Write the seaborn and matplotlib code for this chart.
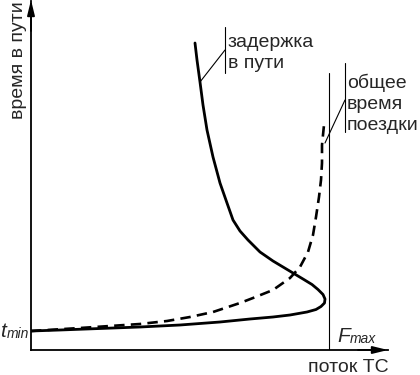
import matplotlib
matplotlib.use("Agg")
import matplotlib.pyplot as plt
import seaborn as sns
import pandas as pd

# ---- data (schematic units: flow axis / time axis) ----
flow_delay = [0, 29, 69, 109, 149, 189, 219, 242, 259, 276, 285, 290, 293.5, 294, 292,
              287, 281, 272, 262, 252, 242, 229, 217, 209, 202, 196, 189, 182, 176, 172,
              169, 166, 164]
time_delay = [19, 20, 21.5, 23, 25, 28, 31, 33, 35, 38, 40.5, 43.5, 47, 51, 55.5,
              60.5, 65.5, 71, 77, 83, 89, 98, 110, 119, 130, 147, 167, 193, 220, 245,
              268, 290, 307]

flow_total = [0, 49, 109, 136, 159, 182, 209, 222, 242, 259, 269, 277, 282, 285,
              288, 290, 291, 291, 293]
time_total = [19, 22, 26, 29, 33, 38, 47, 52, 60, 72, 83, 98, 115, 133,
              153, 170, 187, 205, 225]

F_MAX = 298
F_MAX_TOP = 277
X_END = 357
Y_END = 349

x_label = "поток ТС"
y_label = "время в пути"
delay_label = ["задержка", "в пути"]
total_label = ["общее", "время", "поездки"]

sns.set_style("white")
plt.rcParams["font.family"] = ["Liberation Sans", "DejaVu Sans"]
plt.rcParams["lines.scale_dashes"] = False

W, H = 420, 375
fig = plt.figure(figsize=(W / 100, H / 100), dpi=100)
ax = fig.add_axes([31 / W, 25 / H, 357 / W, 349 / H])
ax.set_xlim(0, X_END)
ax.set_ylim(0, Y_END)

df_delay = pd.DataFrame({"flow": flow_delay, "time": time_delay})
df_total = pd.DataFrame({"flow": flow_total, "time": time_total})

sns.lineplot(data=df_delay, x="flow", y="time", sort=False, estimator=None,
             color="black", linewidth=2.0, ax=ax)
sns.lineplot(data=df_total, x="flow", y="time", sort=False, estimator=None,
             color="black", linewidth=1.9, ax=ax)
ax.lines[-1].set_linestyle((0, (7.5, 4.5)))

# F_max vertical line
ax.plot([F_MAX, F_MAX], [0, F_MAX_TOP], color="black", lw=0.8)

# label pointer lines
ax.plot([194, 194], [277, 323], color="black", lw=0.8)
ax.plot([194, 169], [300, 268], color="black", lw=0.8)
ax.plot([314, 314], [218, 287], color="black", lw=0.8)
ax.plot([314, 294], [250, 207], color="black", lw=0.8)

fs = 14
for i, s in enumerate(delay_label):
    ax.text(197, 303 - 21 * i, s, fontsize=fs, ha="left", va="baseline")
for i, s in enumerate(total_label):
    ax.text(316, 262 - 21 * i, s, fontsize=fs, ha="left", va="baseline")

# axis labels
ax.text(X_END + 1, -22, x_label, fontsize=fs, ha="right", va="baseline", clip_on=False)
ax.text(-8.3, 231, y_label, fontsize=fs, rotation=90, rotation_mode="anchor",
        ha="left", va="baseline", clip_on=False)

# t_min and F_max
ax.text(-31, 13, "t", fontsize=15, style="italic", ha="left", va="baseline", clip_on=False)
ax.text(-24.5, 12, "min", fontsize=10, style="italic", ha="left", va="baseline", clip_on=False)
ax.text(306, 8, "F", fontsize=15, style="italic", ha="left", va="baseline")
ax.text(319, 7, "max", fontsize=10, style="italic", ha="left", va="baseline")

# spines & arrows
for side in ["top", "right"]:
    ax.spines[side].set_visible(False)
for side in ["left", "bottom"]:
    ax.spines[side].set_linewidth(1.3)
    ax.spines[side].set_color("black")
ax.set_xticks([])
ax.set_yticks([])
ax.set_xlabel("")
ax.set_ylabel("")

arrow = dict(arrowstyle="-|>,head_length=0.9,head_width=0.22", color="black",
             lw=1.3, shrinkA=0, shrinkB=0, mutation_scale=10)
ax.annotate("", xy=(0, Y_END + 1), xytext=(0, Y_END - 30), arrowprops=arrow,
            annotation_clip=False)
ax.annotate("", xy=(X_END, 0), xytext=(X_END - 30, 0), arrowprops=arrow,
            annotation_clip=False)

fig.savefig("out.png", dpi=100)
